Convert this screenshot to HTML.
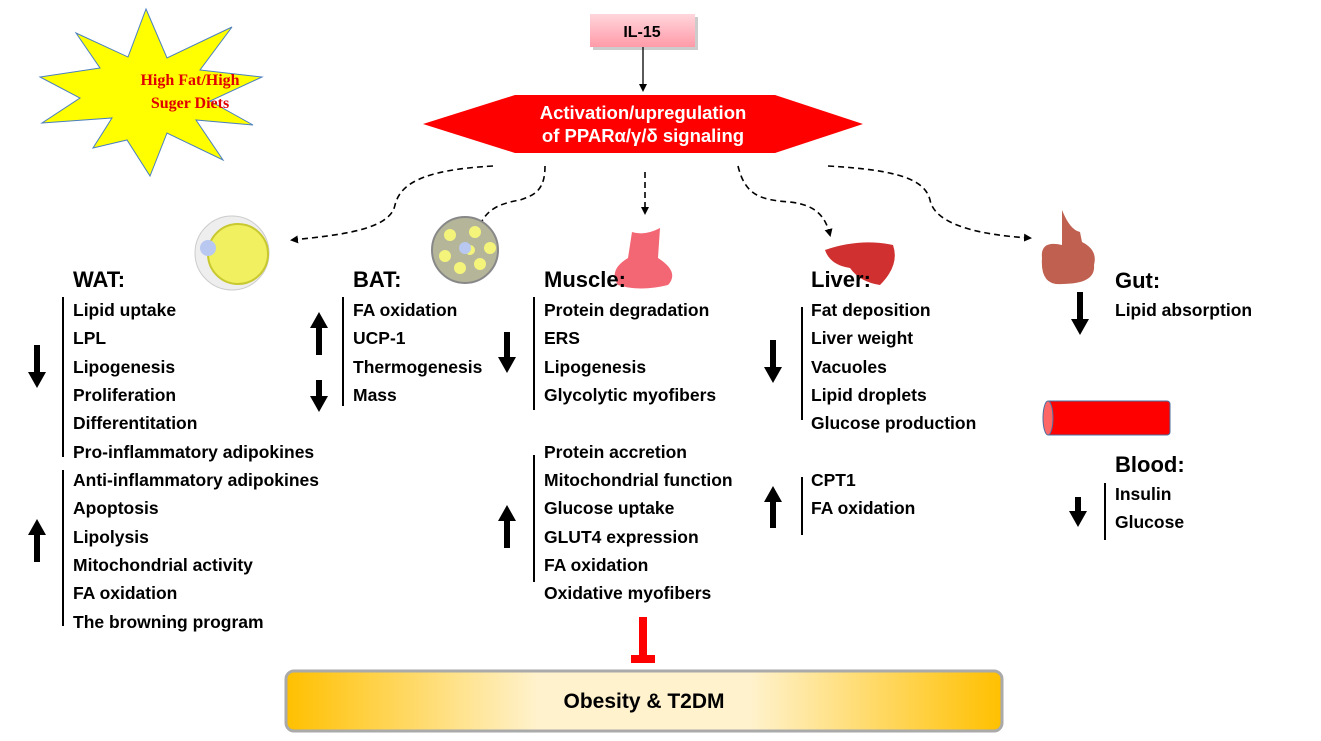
<!DOCTYPE html>
<html><head><meta charset="utf-8"><style>
body{margin:0;background:#fff}
svg{display:block}
text{font-family:"Liberation Sans",sans-serif;font-weight:bold;fill:#000}
.t{font-size:17.5px}
.h{font-size:22px}
</style></head><body>
<svg width="1321" height="741" viewBox="0 0 1321 741" xmlns="http://www.w3.org/2000/svg">
<defs>
<linearGradient id="pk" x1="0" y1="0" x2="0" y2="1"><stop offset="0" stop-color="#ffd6dc"/><stop offset="1" stop-color="#ff9aa8"/></linearGradient>
<linearGradient id="og" x1="0" y1="0" x2="1" y2="0"><stop offset="0" stop-color="#ffc000"/><stop offset="0.35" stop-color="#fff2cc"/><stop offset="0.65" stop-color="#fff2cc"/><stop offset="1" stop-color="#ffc000"/></linearGradient>
<marker id="ar" markerWidth="8" markerHeight="8" refX="6" refY="4" orient="auto" markerUnits="userSpaceOnUse"><path d="M0,0 L8,4 L0,8 Z" fill="#000"/></marker>
</defs>
<polygon points="146,9 167,58 232,27 200,70 262,77 210,101 253,125 196,120 223,160 167,133 150,176 127,140 93,148 112,118 42,123 80,98 40,77 100,68 76,33 128,57" fill="#ffff00" stroke="#4a7fbf" stroke-width="1"/>
<text x="190" y="85" text-anchor="middle" style="font-family:'Liberation Serif',serif;font-size:16px;fill:#e00000">High Fat/High</text>
<text x="190" y="108" text-anchor="middle" style="font-family:'Liberation Serif',serif;font-size:16px;fill:#e00000">Suger Diets</text>
<rect x="593" y="17" width="105" height="33" fill="#999" opacity="0.5"/>
<rect x="590" y="14" width="105" height="33" fill="url(#pk)"/>
<text x="642" y="37" text-anchor="middle" style="font-size:16px">IL-15</text>
<line x1="643" y1="47" x2="643" y2="90" stroke="#000" stroke-width="1.3" marker-end="url(#ar)"/>
<polygon points="423,124 515,95 775,95 863,124 775,153 515,153" fill="#ff0000"/>
<text x="643" y="119" text-anchor="middle" style="font-size:18.5px;fill:#fff">Activation/upregulation</text>
<text x="643" y="142" text-anchor="middle" style="font-size:18.5px;fill:#fff">of PPARα/γ/δ signaling</text>
<g fill="none" stroke="#000" stroke-width="1.6" stroke-dasharray="6,4">
<path d="M493,166 C420,170 400,185 395,205 C390,230 340,235 292,240" marker-end="url(#ar)"/>
<path d="M545,166 C545,190 535,195 520,200 C490,205 485,215 478,228" marker-end="url(#ar)"/>
<path d="M645,172 L645,213" marker-end="url(#ar)"/>
<path d="M738,166 C745,195 760,200 790,202 C815,205 825,215 830,235" marker-end="url(#ar)"/>
<path d="M828,166 C900,170 925,180 930,200 C935,225 980,235 1030,238" marker-end="url(#ar)"/>
</g>
<circle cx="232" cy="253" r="37" fill="#eee" stroke="#ccc"/>
<circle cx="238" cy="254" r="30" fill="#f0f060" stroke="#c8c830" stroke-width="2"/>
<circle cx="208" cy="248" r="8" fill="#b8c8f0"/>
<circle cx="465" cy="250" r="33" fill="#b5b59a" stroke="#888" stroke-width="2"/>
<g fill="#f4f47a"><circle cx="450" cy="235" r="6"/><circle cx="475" cy="232" r="6"/><circle cx="490" cy="248" r="6"/><circle cx="480" cy="264" r="6"/><circle cx="460" cy="268" r="6"/><circle cx="445" cy="256" r="6"/><circle cx="470" cy="250" r="5"/></g>
<circle cx="465" cy="248" r="6" fill="#b8c8f0"/>
<path d="M632,232 Q645,236 660,228 L658,258 Q680,272 668,285 Q640,292 618,285 Q608,270 628,258 Z" fill="#f04050" opacity="0.8"/>
<path d="M825,250 Q860,238 893,245 Q900,265 880,285 Q860,282 850,268 Q830,265 825,250Z" fill="#d03030"/>
<path d="M1062,210 Q1070,230 1080,232 L1082,242 Q1098,250 1094,265 Q1096,284 1062,284 Q1040,286 1042,258 Q1040,240 1062,245Z" fill="#c06050"/>
<rect x="1046" y="401" width="124" height="34" fill="#ff0000" stroke="#4a6fa0" rx="3"/>
<ellipse cx="1048" cy="418" rx="5" ry="17" fill="#ff6666" stroke="#4a6fa0"/>
<text class="h" x="73" y="287">WAT:</text>
<text class="h" x="353" y="287">BAT:</text>
<text class="h" x="544" y="287">Muscle:</text>
<text class="h" x="811" y="287">Liver:</text>
<text class="h" x="1115" y="288">Gut:</text>
<text class="h" x="1115" y="472">Blood:</text>
<g stroke="#000" stroke-width="2">
<line x1="63" y1="297" x2="63" y2="457"/><line x1="63" y1="470" x2="63" y2="626"/>
<line x1="343" y1="297" x2="343" y2="406"/>
<line x1="534" y1="297" x2="534" y2="410"/><line x1="534" y1="455" x2="534" y2="582"/>
<line x1="802" y1="307" x2="802" y2="420"/><line x1="802" y1="477" x2="802" y2="535"/>
<line x1="1105" y1="483" x2="1105" y2="540"/>
</g>
<g fill="#000">
<path d="M34,345h6v27h6l-9,16l-9,-16h6z"/>
<path d="M34,562h6v-27h6l-9,-16l-9,16h6z"/>
<path d="M316,355h6v-27h6l-9,-16l-9,16h6z"/>
<path d="M316,380h6v16h6l-9,16l-9,-16h6z"/>
<path d="M504,332h6v25h6l-9,16l-9,-16h6z"/>
<path d="M504,548h6v-27h6l-9,-16l-9,16h6z"/>
<path d="M770,340h6v27h6l-9,16l-9,-16h6z"/>
<path d="M770,528h6v-26h6l-9,-16l-9,16h6z"/>
<path d="M1077,292h6v27h6l-9,16l-9,-16h6z"/>
<path d="M1075,497h6v14h6l-9,16l-9,-16h6z"/>
</g>
<g>
<text class="t" x="73" y="316">Lipid uptake</text>
<text class="t" x="73" y="344">LPL</text>
<text class="t" x="73" y="373">Lipogenesis</text>
<text class="t" x="73" y="401">Proliferation</text>
<text class="t" x="73" y="429">Differentitation</text>
<text class="t" x="73" y="458">Pro-inflammatory adipokines</text>
<text class="t" x="73" y="486">Anti-inflammatory adipokines</text>
<text class="t" x="73" y="514">Apoptosis</text>
<text class="t" x="73" y="543">Lipolysis</text>
<text class="t" x="73" y="571">Mitochondrial activity</text>
<text class="t" x="73" y="599">FA oxidation</text>
<text class="t" x="73" y="628">The browning program</text>
<text class="t" x="353" y="316">FA oxidation</text>
<text class="t" x="353" y="344">UCP-1</text>
<text class="t" x="353" y="373">Thermogenesis</text>
<text class="t" x="353" y="401">Mass</text>
<text class="t" x="544" y="316">Protein degradation</text>
<text class="t" x="544" y="344">ERS</text>
<text class="t" x="544" y="373">Lipogenesis</text>
<text class="t" x="544" y="401">Glycolytic myofibers</text>
<text class="t" x="544" y="458">Protein accretion</text>
<text class="t" x="544" y="486">Mitochondrial function</text>
<text class="t" x="544" y="514">Glucose uptake</text>
<text class="t" x="544" y="543">GLUT4 expression</text>
<text class="t" x="544" y="571">FA oxidation</text>
<text class="t" x="544" y="599">Oxidative myofibers</text>
<text class="t" x="811" y="316">Fat deposition</text>
<text class="t" x="811" y="344">Liver weight</text>
<text class="t" x="811" y="373">Vacuoles</text>
<text class="t" x="811" y="401">Lipid droplets</text>
<text class="t" x="811" y="429">Glucose production</text>
<text class="t" x="811" y="486">CPT1</text>
<text class="t" x="811" y="514">FA oxidation</text>
<text class="t" x="1115" y="316">Lipid absorption</text>
<text class="t" x="1115" y="500">Insulin</text>
<text class="t" x="1115" y="528">Glucose</text>
</g>
<rect x="639" y="617" width="8" height="40" fill="#ff0000"/>
<rect x="631" y="655" width="24" height="8" fill="#ff0000"/>
<rect x="286" y="671" width="716" height="60" rx="8" fill="url(#og)" stroke="#aaa" stroke-width="3"/>
<text x="644" y="708" text-anchor="middle" style="font-size:21px">Obesity &amp; T2DM</text>
</svg>
</body></html>
